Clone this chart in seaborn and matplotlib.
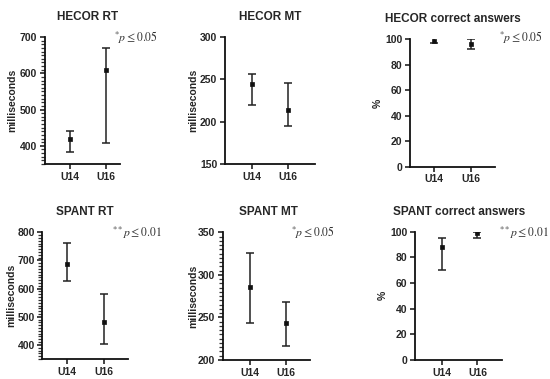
import matplotlib
matplotlib.use("Agg")
import matplotlib.pyplot as plt
import seaborn as sns
import pandas as pd
from matplotlib.ticker import MultipleLocator

sns.set_style("ticks")
plt.rcParams['font.family'] = ['Liberation Sans', 'DejaVu Sans']
plt.rcParams['mathtext.fontset'] = 'stix'

groups = ["U14", "U16"]

titles = ["HECOR RT", "HECOR MT", "HECOR correct answers",
          "SPANT RT", "SPANT MT", "SPANT correct answers"]
ylabels = ["milliseconds", "milliseconds", "%",
           "milliseconds", "milliseconds", "%"]

hecor_rt_mean = [418, 608]
hecor_rt_low = [384, 409]
hecor_rt_high = [440, 669]

hecor_mt_mean = [244, 214]
hecor_mt_low = [220, 195]
hecor_mt_high = [256, 246]

hecor_ca_mean = [99, 96]
hecor_ca_low = [97, 92]
hecor_ca_high = [101, 100]

spant_rt_mean = [689, 481]
spant_rt_low = [627, 404]
spant_rt_high = [762, 580]

spant_mt_mean = [286, 243]
spant_mt_low = [243, 217]
spant_mt_high = [326, 268]

spant_ca_mean = [88, 99]
spant_ca_low = [70, 95]
spant_ca_high = [95, 100]

p_labels = [r"$^{*}p \leq 0.05$", None, r"$^{*}p \leq 0.05$",
            r"$^{**}p \leq 0.01$", r"$^{*}p \leq 0.05$", r"$^{**}p \leq 0.01$"]

means = [hecor_rt_mean, hecor_mt_mean, hecor_ca_mean, spant_rt_mean, spant_mt_mean, spant_ca_mean]
lows = [hecor_rt_low, hecor_mt_low, hecor_ca_low, spant_rt_low, spant_mt_low, spant_ca_low]
highs = [hecor_rt_high, hecor_mt_high, hecor_ca_high, spant_rt_high, spant_mt_high, spant_ca_high]

ylims = [(350, 700), (150, 300), (0, 100), (350, 800), (200, 350), (0, 100)]
ymajor = [100, 50, 20, 100, 50, 20]
yminor = [10, None, None, 10, 5, None]
xlims = [(-0.69, 1.39), (-0.74, 1.74), (-0.65, 1.66), (-0.68, 1.65), (-0.76, 1.67), (-0.75, 1.68)]

# axes boxes in pixels: left, top, width, height (figure 550x379)
boxes = [(45, 37, 75, 127), (225, 36.7, 90, 127.6), (410, 39.3, 85, 127.4),
         (42.3, 232.3, 85.4, 126.7), (222.7, 232.3, 87.3, 127.7), (415, 231.7, 86.7, 128.3)]
title_pos = [(88, 17), (270, 17), (452.7, 19), (85, 211.5), (268, 211.5), (459, 212)]
ylabel_x = [12, 193, 378, 11, 193, 383]
p_pos = [(114, 38), None, (499, 38), (112, 233), (291, 233), (499, 233)]

W, H = 550, 379
fig = plt.figure(figsize=(5.5, 3.79), dpi=100)

for i in range(6):
    l, t, w, h = boxes[i]
    ax = fig.add_axes([l / W, 1 - (t + h) / H, w / W, h / H])
    df = pd.DataFrame({"group": groups, "mean": means[i],
                       "low": lows[i], "high": highs[i]})
    yerr = [df["mean"] - df["low"], df["high"] - df["mean"]]
    ax.errorbar(x=[0, 1], y=df["mean"], yerr=yerr, fmt="none",
                ecolor="#222222", elinewidth=1.1, capsize=2.8, capthick=1.1, zorder=2)
    sns.scatterplot(data=df.assign(pos=[0, 1]), x="pos", y="mean", ax=ax,
                    marker="s", s=8, color="#111111", edgecolor="#111111",
                    linewidth=0.5, zorder=3, legend=False)
    ax.set_xlim(*xlims[i])
    ax.set_ylim(*ylims[i])
    ax.set_xticks([0, 1])
    ax.set_xticklabels(groups, fontsize=7.5, fontweight="bold")
    ax.set_xlabel("")
    ax.set_ylabel("")
    sns.despine(ax=ax)
    for s in ["left", "bottom"]:
        ax.spines[s].set_linewidth(1.3)
        ax.spines[s].set_color("#111111")
    ax.yaxis.set_major_locator(MultipleLocator(ymajor[i]))
    for lab in ax.get_yticklabels():
        lab.set_fontsize(7.5)
        lab.set_fontweight("bold")
    ax.tick_params(axis="both", which="major", length=3.5, width=1.1, color="#111111", pad=2)
    ax.set_facecolor("none")
    if yminor[i]:
        ax.yaxis.set_minor_locator(MultipleLocator(yminor[i]))
        ax.tick_params(axis="y", which="minor", left=True, length=2.8, width=0.9,
                       color="#333333")

    tx, ty = title_pos[i]
    fig.text(tx / W, 1 - ty / H, titles[i], ha="center", va="center",
             fontsize=8.5, fontweight="bold")
    fig.text(ylabel_x[i] / W, 1 - (t + h / 2) / H, ylabels[i], ha="center", va="center",
             rotation=90, fontsize=7.5, fontweight="bold")
    if p_pos[i] is not None:
        px, py = p_pos[i]
        fig.text(px / W, 1 - py / H, p_labels[i], ha="left", va="center",
                 fontsize=8.5, color="#333333")

fig.savefig("out.png", dpi=100)
